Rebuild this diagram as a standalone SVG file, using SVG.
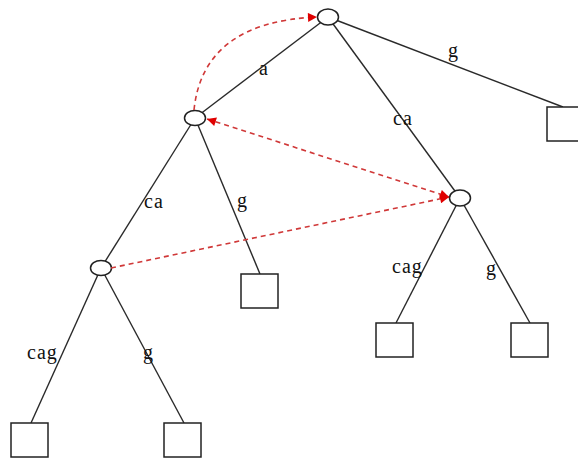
<svg xmlns="http://www.w3.org/2000/svg" width="578" height="462" viewBox="0 0 578 462">
<defs>
<style>
.edge{stroke:#2a2a2a;stroke-width:1.4;fill:none}
.link{stroke:#d03838;stroke-width:1.6;fill:none;stroke-dasharray:5,4}
.node{fill:#fff;stroke:#222;stroke-width:1.5}
.leaf{fill:#fff;stroke:#222;stroke-width:1.5}
text{font-family:"Liberation Serif","Times New Roman",serif;font-size:20px;fill:#111;letter-spacing:1px}
</style>
<marker id="ah" viewBox="0 0 10 10" refX="10" refY="5" markerWidth="10" markerHeight="9" markerUnits="userSpaceOnUse" orient="auto-start-reverse">
<path d="M0,0 L10,5 L0,10 Z" fill="#e00000"/>
</marker>
</defs>
<rect width="578" height="462" fill="#fff"/>
<g id="edges">
<line class="edge" x1="328" y1="17" x2="195" y2="118"/>
<line class="edge" x1="328" y1="17" x2="563" y2="107"/>
<line class="edge" x1="328" y1="17" x2="460" y2="198"/>
<line class="edge" x1="195" y1="118" x2="101" y2="268"/>
<line class="edge" x1="195" y1="118" x2="260" y2="274"/>
<line class="edge" x1="460" y1="198" x2="396" y2="323"/>
<line class="edge" x1="460" y1="198" x2="530" y2="323"/>
<line class="edge" x1="101" y1="268" x2="31" y2="423"/>
<line class="edge" x1="101" y1="268" x2="184" y2="423"/>
<text x="259" y="75">a</text>
<text x="448" y="57">g</text>
<text x="393" y="125">ca</text>
<text x="144" y="208">ca</text>
<text x="237" y="207">g</text>
<text x="392" y="273">cag</text>
<text x="486" y="275">g</text>
<text x="27" y="359">cag</text>
<text x="143" y="359">g</text>
</g>
<g id="n-root"><ellipse class="node" cx="328" cy="17" rx="10.5" ry="8"/></g>
<g id="n-a"><ellipse class="node" cx="195" cy="118" rx="10.5" ry="7.5"/></g>
<g id="n-b"><ellipse class="node" cx="460" cy="198" rx="10.5" ry="8"/></g>
<g id="n-c"><ellipse class="node" cx="101" cy="268" rx="10.5" ry="7.5"/></g>
<g id="leaf-root-g"><rect class="leaf" x="547" y="107" width="38" height="34"/></g>
<g id="leaf-a-g"><rect class="leaf" x="241" y="274" width="37" height="34"/></g>
<g id="leaf-b-cag"><rect class="leaf" x="376" y="323" width="37" height="34"/></g>
<g id="leaf-b-g"><rect class="leaf" x="511" y="323" width="37" height="34"/></g>
<g id="leaf-c-cag"><rect class="leaf" x="11" y="423" width="37" height="34"/></g>
<g id="leaf-c-g"><rect class="leaf" x="164" y="423" width="37" height="34"/></g>
<g id="links">
<path class="link" d="M194,110 Q203,22 317,17" marker-end="url(#ah)"/>
<path class="link" d="M207,119 L449,197" marker-start="url(#ah)" marker-end="url(#ah)"/>
<path class="link" d="M111,268 L449,197" marker-end="url(#ah)"/>
</g>
</svg>
